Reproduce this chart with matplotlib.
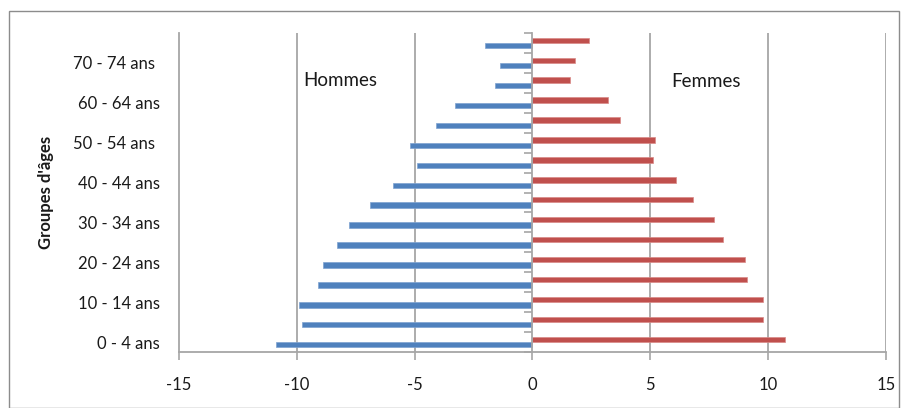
import matplotlib
matplotlib.use("Agg")
import matplotlib.pyplot as plt
import numpy as np
from matplotlib.patches import Rectangle

plt.rcParams['font.family'] = ['Lato', 'DejaVu Sans']

groups = ["0 - 4 ans", "5 - 9 ans", "10 - 14 ans", "15 - 19 ans", "20 - 24 ans",
          "25 - 29 ans", "30 - 34 ans", "35 - 39 ans", "40 - 44 ans", "45 - 49 ans",
          "50 - 54 ans ", "55 - 59 ans", "60 - 64 ans", "65 - 69 ans", "70 - 74 ans ",
          "75 ans et +"]
hommes = [-10.9, -9.8, -9.9, -9.1, -8.9, -8.3, -7.8, -6.9, -5.9, -4.9,
          -5.2, -4.1, -3.3, -1.6, -1.4, -2.0]
femmes = [10.7, 9.8, 9.8, 9.1, 9.0, 8.1, 7.7, 6.8, 6.1, 5.1,
          5.2, 3.7, 3.2, 1.6, 1.8, 2.4]
xticks = [-15, -10, -5, 0, 5, 10, 15]

blue = "#4F81BD"
red = "#C0504D"
grid = "#A6A6A6"
txt = "#1A1A1A"

fig = plt.figure(figsize=(9.04, 4.08), dpi=100)
fig.patches.append(Rectangle((9/904, 0), 890/904, 1 - 11/408, transform=fig.transFigure,
                             fill=False, edgecolor="#8C8C8C", linewidth=1.0))
ax = fig.add_axes([179/904, 1 - 352/408, (886 - 179)/904, (352 - 33)/408])

n = len(groups)
y = np.arange(n)
h = 0.27
ax.barh(y - h/2, hommes, height=h, color=blue, edgecolor="#7FA3D1", linewidth=0.5, zorder=3)
ax.barh(y + h/2, femmes, height=h, color=red, edgecolor="#D98A88", linewidth=0.5, zorder=3)

ax.set_xlim(-15, 15)
ax.set_ylim(-0.5, n - 0.5)
ax.set_xticks(xticks)
ax.set_xticklabels([str(v) for v in xticks], fontsize=12, color=txt)
ax.tick_params(axis='x', direction='out', length=6, width=1.2, color=grid, pad=12)

ax.set_yticks(y[::2])
ax.set_yticklabels([groups[i] for i in range(0, n, 2)], fontsize=12, color=txt)
ax.tick_params(axis='y', length=0, pad=14)

for v in [-10, -5, 5, 10, 15]:
    ax.axvline(v, color=grid, linewidth=1.3, zorder=1)

for s in ['top', 'right']:
    ax.spines[s].set_visible(False)
for s in ['left', 'bottom']:
    ax.spines[s].set_color(grid)
    ax.spines[s].set_linewidth(1.3)

# category axis at x = 0 with ticks between categories
ax2 = ax.twinx()
ax2.set_ylim(ax.get_ylim())
for s in ['top', 'left', 'bottom']:
    ax2.spines[s].set_visible(False)
ax2.spines['right'].set_position(('data', 0))
ax2.spines['right'].set_color(grid)
ax2.spines['right'].set_linewidth(1.3)
ax2.spines['right'].set_zorder(4)
ax2.set_yticks(np.arange(-0.5, n, 1.0))
ax2.set_yticklabels([])
ax2.tick_params(axis='y', direction='in', length=6, width=1.2, color=grid)

ax.set_ylabel("Groupes d'âges", fontsize=12, fontweight='bold', color=txt)
ax.yaxis.set_label_coords(-(179 - 54) / 707, 0.5)

ax.text(-9.73, 13.1, "Hommes", fontsize=13.5, color=txt, va='center', ha='left')
ax.text(5.89, 13.05, "Femmes", fontsize=13.5, color=txt, va='center', ha='left')

fig.savefig("out.png", dpi=100)
